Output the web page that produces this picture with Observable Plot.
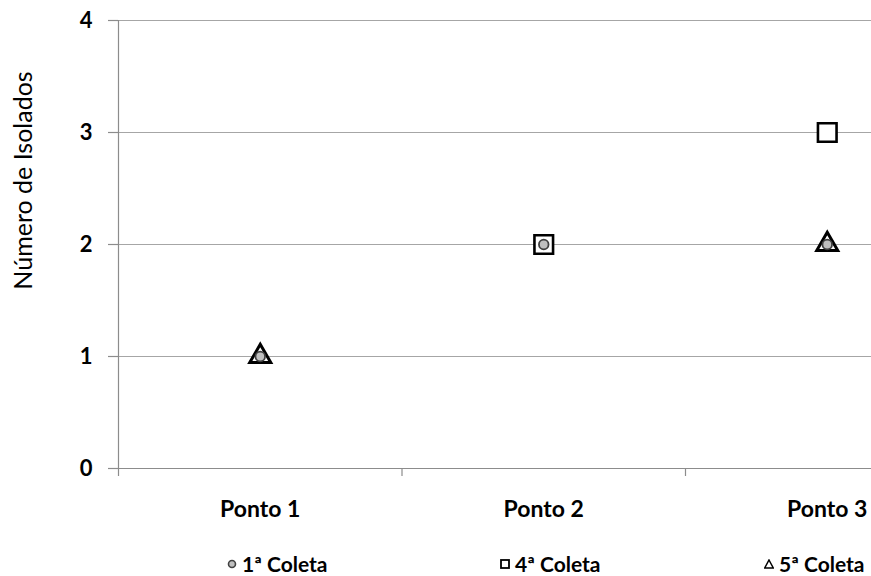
<!DOCTYPE html>
<html>
<head>
<meta charset="utf-8">
<script src="https://cdn.jsdelivr.net/npm/d3@7"></script>
<script src="https://cdn.jsdelivr.net/npm/@observablehq/plot@0.6"></script>
<style>
  html, body { margin: 0; padding: 0; background: #fff; overflow: hidden; }
  #chart { position: relative; width: 871px; }
  .legend { position: relative; height: 26px; width: 871px; font: bold 21px Lato, "Open Sans", sans-serif; color: #000; }
  .legend .item { position: absolute; top: 3px; display: flex; align-items: center; gap: 5px; white-space: nowrap; line-height: 1; }
  .legend svg { display: block; }
</style>
</head>
<body>
<div id="chart"></div>
<script>
// Sampling points and collections
const pontos = ["Ponto 1", "Ponto 2", "Ponto 3"];
const coletas = ["1ª Coleta", "4ª Coleta", "5ª Coleta"];
const yTicks = [0, 1, 2, 3, 4];

// Number of isolates per point (null = no isolates recorded for that point)
const coleta1 = [1, 2, 2];
const coleta4 = [null, 2, 3];
const coleta5 = [1, null, 2];

const rows = (values, coleta) =>
  values.map((v, i) => ({ponto: pontos[i], idx: i, coleta, v})).filter(d => d.v != null);

const d1 = rows(coleta1, coletas[0]);
const d4 = rows(coleta4, coletas[1]);
const d5 = rows(coleta5, coletas[2]);

const width = 871;
const height = 550;
const font = "Lato, 'Open Sans', sans-serif";
const axisColor = "#8c8c8c";

// Categories sit in the middle of equal-width slots; slot edges carry the tick marks
const pos = d => d.idx + 0.5;

const chart = Plot.plot({
  width,
  height,
  marginLeft: 118,
  marginRight: 0,
  marginTop: 20,
  marginBottom: height - 468,
  style: {fontFamily: font, fontSize: "23px", fontWeight: "bold", color: "#000", overflow: "visible"},
  x: {domain: [0, pontos.length], range: [118, 118 + 283.5 * pontos.length]},
  y: {domain: [0, 4], ticks: yTicks},
  marks: [
    Plot.gridY(yTicks.slice(1), {stroke: "#a6a6a6", strokeOpacity: 1, strokeWidth: 1.2}),
    // slot boundary ticks below the x axis line
    Plot.axisX(d3.range(pontos.length), {tickSize: 8, tickFormat: () => "", stroke: axisColor, strokeWidth: 1.2}),
    Plot.axisX(pontos.map((_, i) => i + 0.5), {
      tickSize: 0, tickPadding: 32, tickFormat: v => pontos[Math.floor(v)],
      fontSize: 23, fontWeight: "bold", fill: "#000"
    }),
    Plot.axisY(yTicks, {
      tickSize: 10, tickPadding: 16, tickFormat: d3.format("d"),
      stroke: axisColor, strokeWidth: 1.2, fontSize: 22, fontWeight: "bold", fill: "#000", label: null
    }),
    Plot.ruleY([0], {stroke: axisColor, strokeWidth: 1.2}),
    Plot.ruleX([0], {y1: 0, y2: 4, stroke: axisColor, strokeWidth: 1.2}),
    // 4ª coleta: open squares
    Plot.dot(d4, {x: pos, y: "v", symbol: "square", r: 10.5, stroke: "#000", strokeWidth: 2.6, fill: "#fff"}),
    // 5ª coleta: open triangles
    Plot.dot(d5, {x: pos, y: "v", symbol: "triangle", r: 7.8, stroke: "#000", strokeWidth: 3, fill: "#fff"}),
    // 1ª coleta: grey circles
    Plot.dot(d1, {x: pos, y: "v", symbol: "circle", r: 4.8, stroke: "#404040", strokeWidth: 1.8, fill: "#bfbfbf"}),
    Plot.text(["Número de Isolados"], {
      frameAnchor: "left", textAnchor: "middle", dx: -95, dy: -64, rotate: -90,
      fontSize: 25, fontWeight: "normal", fill: "#000"
    })
  ]
});

document.getElementById("chart").appendChild(chart);

// Legend below the plot
const legend = d3.select("body").append("div").attr("class", "legend");
const legendX = [227, 500, 764];
const symbols = [
  g => g.append("circle").attr("cx", 5).attr("cy", 5).attr("r", 3.5).attr("fill", "#bfbfbf").attr("stroke", "#404040").attr("stroke-width", 1.6),
  g => g.append("rect").attr("x", 1).attr("y", 1).attr("width", 8).attr("height", 8).attr("fill", "#fff").attr("stroke", "#000").attr("stroke-width", 1.8),
  g => g.append("path").attr("d", "M5,1L9.3,9H0.7Z").attr("fill", "#fff").attr("stroke", "#000").attr("stroke-width", 1.5)
];
coletas.forEach((c, i) => {
  const item = legend.append("div").attr("class", "item").style("left", legendX[i] + "px");
  const s = item.append("svg").attr("width", 10).attr("height", 10);
  symbols[i](s);
  item.append("span").text(c);
});
</script>
</body>
</html>
